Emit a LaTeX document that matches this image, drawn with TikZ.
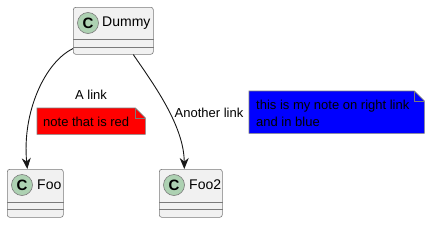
\documentclass[tikz,border=0pt]{standalone}
\usepackage{fontspec}
\setmainfont{Liberation Sans}
\usetikzlibrary{arrows.meta,calc}
\definecolor{classbg}{HTML}{F1F1F1}
\definecolor{lineclr}{HTML}{181818}
\definecolor{boxclr}{HTML}{7A7A7A}
\definecolor{spotclr}{HTML}{ADD1B2}
\definecolor{noteblue}{HTML}{0000FF}
\begin{document}
\begin{tikzpicture}[x=1pt,y=-1pt,
  classbox/.style={draw=boxclr,line width=0.6pt,fill=classbg,rounded corners=2.5pt,inner sep=0pt,anchor=north west},
  spotc/.style={circle,draw=boxclr,line width=0.6pt,fill=spotclr,minimum size=21pt,inner sep=0pt,font=\fontsize{15}{15}\selectfont\bfseries},
  cname/.style={anchor=west,inner sep=0pt,font=\fontsize{14}{16}\selectfont},
  sepline/.style={draw=boxclr,line width=0.6pt},
  link/.style={draw=lineclr,line width=0.9pt,-{Stealth[length=11pt,width=9pt,inset=3.5pt]}},
  lbl/.style={inner sep=0pt,font=\fontsize{13}{15}\selectfont},
  notegeom/.style={anchor=north west,inner sep=0pt},
  noteshape/.style={draw=boxclr,line width=0.6pt},
]
\useasboundingbox (0,0) rectangle (437,231);

% classes
\node[classbox,minimum width=80pt,minimum height=47pt] (dummy) at (73,7) {};
\node[classbox,minimum width=56pt,minimum height=48pt] (foo) at (7,169) {};
\node[classbox,minimum width=63pt,minimum height=48pt] (foo2) at (159,169) {};

\foreach \c/\h/\g in {dummy/32/8, foo/33/7, foo2/33/7}{
  \draw[sepline] ($(\c.north west)+(0,\h)$) -- ($(\c.north east)+(0,\h)$);
  \draw[sepline] ($(\c.north west)+(0,\h+\g)$) -- ($(\c.north east)+(0,\h+\g)$);
}

\node[spotc] (dummyc) at (88,23) {C};
\node[cname] (dummyt) at (102,23) {Dummy};
\node[spotc] (fooc) at (22,185) {C};
\node[cname] (foot) at (37,185) {Foo};
\node[spotc] (foo2c) at (174,185) {C};
\node[cname] (foo2t) at (189,185) {Foo2};

% links
\draw[link] ([yshift=6pt]dummy.south west) .. controls (45,62) and (22,112) .. ([xshift=-8pt]foo.north);
\draw[link] ([xshift=20pt]dummy.south) .. controls (152,82) and (184,125) .. ([xshift=-6.5pt]foo2.north);

\node[lbl] (l1) at (91,95) {A link};
\node[lbl] (l2) at (209,113) {Another link};

% red note
\node[notegeom,minimum width=108pt,minimum height=26pt] (n1) at (37,108) {};
\filldraw[noteshape,fill=red] (n1.north west) -- ($(n1.north east)+(-10,0)$) -- ($(n1.north east)+(0,10)$) -- (n1.south east) -- (n1.south west) -- cycle;
\draw[noteshape] ($(n1.north east)+(-10,0)$) -- ($(n1.north east)+(-10,10)$) -- ($(n1.north east)+(0,10)$);
\node[lbl,anchor=west] (n1t) at ($(n1.west)+(6,1)$) {note that is red};

% blue note
\node[notegeom,minimum width=175pt,minimum height=42pt] (n2) at (249,91) {};
\filldraw[noteshape,fill=noteblue] (n2.north west) -- ($(n2.north east)+(-10,0)$) -- ($(n2.north east)+(0,10)$) -- (n2.south east) -- (n2.south west) -- cycle;
\draw[noteshape] ($(n2.north east)+(-10,0)$) -- ($(n2.north east)+(-10,10)$) -- ($(n2.north east)+(0,10)$);
\node[lbl,anchor=west,align=left,font=\fontsize{13}{17}\selectfont] (n2t) at ($(n2.west)+(7,1.5)$) {this is my note on right link\\and in blue};
\end{tikzpicture}
\end{document}
